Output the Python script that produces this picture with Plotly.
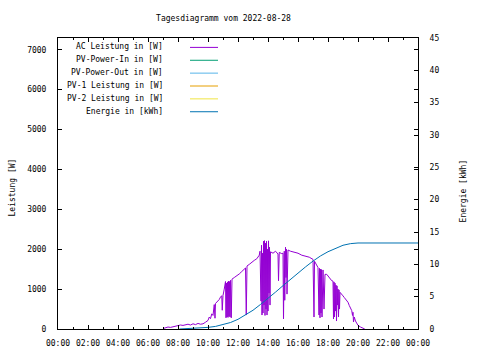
import plotly.graph_objects as go

DAY = "2022-08-28"
NEXT_DAY = "2022-08-29"
title_text = "Tagesdiagramm vom 2022-08-28"
y_title = "Leistung [W]"
y2_title = "Energie [kWh]"

series_names = ["AC Leistung in [W]", "PV-Power-In in [W]", "PV-Power-Out in [W]",
                "PV-1 Leistung in [W]", "PV-2 Leistung in [W]", "Energie in [kWh]"]
series_colors = ["#9400d3", "#009e73", "#56b4e9", "#e69f00", "#f0e442", "#0072b2"]

ac_times = ["07:00", "07:10", "07:20", "07:30", "07:40", "07:50", "08:00", "08:10", "08:20", "08:30",
            "08:40", "08:50", "09:00", "09:10", "09:20", "09:30", "09:40", "09:50", "10:00", "10:05",
            "10:10", "10:15", "10:20", "10:25", "10:28", "10:30", "10:35", "10:40", "10:45", "10:50",
            "10:55", "10:57", "11:00", "11:05", "11:10", "11:12", "11:14", "11:16", "11:18", "11:20",
            "11:22", "11:24", "11:26", "11:28", "11:30", "11:33", "11:36", "11:45", "11:55", "12:05",
            "12:15", "12:20", "12:30", "12:33", "12:36", "12:45", "12:55", "13:05", "13:15", "13:25",
            "13:28", "13:32", "13:34", "13:36", "13:38", "13:40", "13:42", "13:44", "13:46", "13:48",
            "13:50", "13:52", "13:54", "13:56", "13:58", "14:00", "14:02", "14:04", "14:06", "14:08",
            "14:10", "14:20", "14:30", "14:40", "14:42", "14:45", "14:55", "15:00", "15:02", "15:05",
            "15:07", "15:10", "15:12", "15:14", "15:16", "15:20", "15:30", "15:45", "16:00", "16:15",
            "16:30", "16:45", "17:00", "17:04", "17:06", "17:12", "17:20", "17:24", "17:26", "17:28",
            "17:30", "17:32", "17:34", "17:36", "17:40", "17:44", "17:48", "17:55", "18:00", "18:05",
            "18:10", "18:15", "18:20", "18:22", "18:24", "18:26", "18:28", "18:30", "18:32", "18:34",
            "18:36", "18:38", "18:40", "18:42", "18:44", "18:46", "18:48", "18:55", "19:00", "19:05",
            "19:10", "19:20", "19:25", "19:30", "19:35", "19:38", "19:40", "19:42", "19:45", "19:50",
            "19:55", "20:00", "20:10", "20:20", "20:27"]
ac_watts = [10, 30, 50, 40, 60, 70, 80, 100, 90, 110,
            120, 100, 130, 110, 140, 120, 130, 170, 215, 300,
            260, 380, 340, 612, 270, 640, 670, 700, 740, 800,
            835, 470, 840, 1000, 1190, 280, 1150, 300, 1180, 290,
            1200, 320, 1190, 300, 1220, 280, 1250, 1290, 1330, 1380,
            1440, 1470, 1530, 350, 1580, 1620, 1680, 1720, 1760, 1850,
            1950, 700, 2100, 350, 1900, 400, 2200, 600, 2215, 340,
            2150, 500, 2200, 350, 2000, 450, 2210, 900, 2050, 600,
            1935, 1900, 1950, 1880, 1210, 1920, 1890, 1900, 255, 1950,
            720, 2050, 1290, 2000, 875, 1980, 1950, 1920, 1900, 1850,
            1830, 1800, 1745, 300, 1700, 1620, 1540, 350, 1520, 280,
            1500, 400, 1490, 300, 1480, 500, 1370, 1370, 1330, 1290,
            1250, 1210, 1200, 250, 1180, 300, 1150, 450, 1100, 200,
            1080, 600, 1000, 300, 980, 500, 920, 880, 830, 790,
            750, 670, 590, 520, 460, 340, 420, 175, 300, 200,
            130, 90, 50, 10, 0]

pv_in_times, pv_in_watts = [], []
pv_out_times, pv_out_watts = [], []
pv1_times, pv1_watts = [], []
pv2_times, pv2_watts = [], []

energy_times = ["08:06", "09:00", "10:00", "10:30", "11:00", "11:30", "12:00", "12:30", "13:00", "13:30",
                "14:00", "14:30", "15:00", "15:30", "16:00", "16:30", "17:00", "17:30", "18:00", "18:30",
                "19:00", "19:30", "20:00", "24:00"]
energy_kwh = [0.0, 0.1, 0.25, 0.4, 0.65, 1.0, 1.5, 2.2, 2.9, 3.8,
              4.7, 5.7, 6.7, 7.7, 8.7, 9.6, 10.5, 11.3, 11.95, 12.5,
              12.95, 13.2, 13.3, 13.3]

x_tick_step_h = 2
y_max = 7295
y2_max = 45


def to_dt(t):
    if t == "24:00":
        return NEXT_DAY + " 00:00"
    return DAY + " " + t


FONT = "DejaVu Sans Mono"
W, H = 480, 360
L, R, T, B = 58, 62, 38, 28
PW, PH = W - L - R, H - T - B


def px_x(px):
    return (px - L) / PW


def px_y(py):
    return (H - B - py) / PH


fig = go.Figure()
data_sets = [
    (ac_times, ac_watts, "y"),
    (pv_in_times, pv_in_watts, "y"),
    (pv_out_times, pv_out_watts, "y"),
    (pv1_times, pv1_watts, "y"),
    (pv2_times, pv2_watts, "y"),
    (energy_times, energy_kwh, "y2"),
]
for (ts, vs, ax), name, col in zip(data_sets, series_names, series_colors):
    fig.add_trace(go.Scatter(x=[to_dt(t) for t in ts], y=vs, mode="lines", name=name,
                             line=dict(color=col, width=1), yaxis=ax, showlegend=False))

# Gnuplot-style legend: right-aligned text, sample line to the right
legend_rows_py = [47, 60, 73, 86, 99, 112]
for name, col, py in zip(series_names, series_colors, legend_rows_py):
    fig.add_annotation(x=px_x(165), y=px_y(py), xref="paper", yref="paper", text=name,
                       showarrow=False, xanchor="right", yanchor="middle",
                       font=dict(family=FONT, size=8, color="black"))
    fig.add_shape(type="line", xref="paper", yref="paper", x0=px_x(190), x1=px_x(218),
                  y0=px_y(py + 0.5), y1=px_y(py + 0.5), line=dict(color=col, width=1))

fig.add_annotation(x=px_x(12), y=px_y(189), xref="paper", yref="paper", text=y_title,
                   showarrow=False, textangle=-90, xanchor="center", yanchor="middle",
                   font=dict(family=FONT, size=8, color="black"))
fig.add_annotation(x=px_x(463), y=px_y(193), xref="paper", yref="paper", text=y2_title,
                   showarrow=False, textangle=-90, xanchor="center", yanchor="middle",
                   font=dict(family=FONT, size=8, color="black"))

fig.update_layout(
    width=W, height=H,
    margin=dict(l=L, r=R, t=T, b=B, pad=0),
    paper_bgcolor="white", plot_bgcolor="white",
    font=dict(family=FONT, size=8, color="black"),
    title=dict(text=title_text, x=223.5 / W, y=1 - 18 / H, xref="container", yref="container",
               xanchor="center", yanchor="middle", font=dict(family=FONT, size=8, color="black")),
    showlegend=False,
    xaxis=dict(type="date", range=[DAY + " 00:00", NEXT_DAY + " 00:00"],
               tickformat="%H:%M", dtick=x_tick_step_h * 3600000, tick0=DAY + " 00:00",
               ticks="inside", ticklen=4, tickcolor="black", showgrid=False, zeroline=False,
               showline=True, linecolor="black", linewidth=1, mirror="ticks",
               ticklabelstandoff=6,
               minor=dict(dtick=3600000, ticks="inside", ticklen=2, tickcolor="black", showgrid=False)),
    yaxis=dict(range=[0, y_max], dtick=1000, tick0=0, ticks="inside", ticklen=4, tickcolor="black",
               showgrid=False, zeroline=False, showline=True, linecolor="black", linewidth=1,
               mirror="ticks", ticklabelstandoff=9),
    yaxis2=dict(range=[0, y2_max], dtick=5, tick0=0, ticks="inside", ticklen=4, tickcolor="black",
                overlaying="y", side="right", showgrid=False, zeroline=False, showline=True,
                linecolor="black", linewidth=1, ticklabelstandoff=9),
)

fig.write_html("out.html", config={"displayModeBar": False},
               post_script="document.body.style.margin='0';document.body.style.padding='0';")
